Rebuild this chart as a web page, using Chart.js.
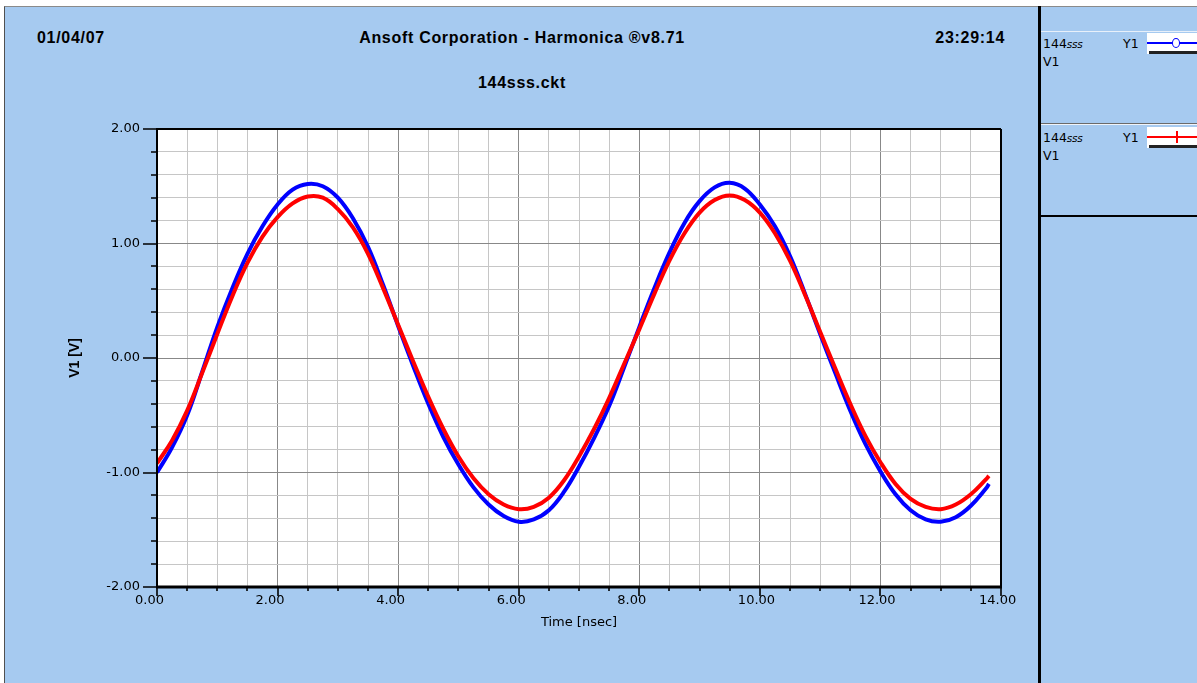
<!DOCTYPE html>
<html><head><meta charset="utf-8">
<script src="https://cdn.jsdelivr.net/npm/chart.js@4.4.0/dist/chart.umd.min.js"></script>
<style>
html,body{margin:0;padding:0;width:1197px;height:683px;overflow:hidden;background:#fff;}
#panel{position:absolute;left:4px;top:6px;width:1193px;height:677px;background:#A6CAF0;border-left:1px solid #505050;border-top:1px solid #8a8a8a;box-sizing:border-box;}
#sep{position:absolute;left:1038px;top:6px;width:3px;height:677px;background:#000;}
.hl{position:absolute;left:1041px;width:156px;}
canvas{position:absolute;left:0;top:0;}
.h{position:absolute;white-space:nowrap;font-family:'Liberation Sans',Arial,sans-serif;font-weight:bold;font-size:16px;line-height:16px;letter-spacing:0.7px;color:#000;}
.lg{position:absolute;white-space:nowrap;font-family:'DejaVu Sans',sans-serif;font-size:12.5px;line-height:13px;color:#000;}
.lg i{font-size:10.5px;letter-spacing:-0.3px;}
.box{position:absolute;left:1147px;width:50px;height:21px;background:#fff;}
</style></head>
<body>
<div id="panel"></div>
<div id="sep"></div>
<div class="hl" style="top:31px;height:1px;background:#e8f0fa;"></div>
<div class="hl" style="top:123px;height:1px;background:#6a6a6a;"></div>
<div class="hl" style="top:124px;height:1px;background:#f0f4fa;"></div>
<div class="hl" style="top:215px;height:2px;background:#000;"></div>

<div class="h" style="left:37px;top:30px;">01/04/07</div>
<div class="h" style="left:4px;width:1036px;text-align:center;top:30px;">Ansoft Corporation - Harmonica ®v8.71</div>
<div class="h" style="right:192px;top:30px;">23:29:14</div>
<div class="h" style="left:4px;width:1036px;text-align:center;top:75px;">144sss.ckt</div>

<div class="lg" style="left:1043px;top:37px;">144<i>sss</i></div>
<div class="lg" style="left:1123px;top:37px;">Y1</div>
<div class="lg" style="left:1043px;top:55px;">V1</div>
<div class="box" style="top:33px;"></div>
<div style="position:absolute;left:1147px;top:42px;width:50px;height:2px;background:#0000ff;"></div>
<div style="position:absolute;left:1172px;top:38px;width:6px;height:8px;border:1.5px solid #0000ff;border-radius:50%;background:#fff;"></div>
<div style="position:absolute;left:1149px;top:51px;width:48px;height:3px;background:#222;"></div>

<div class="lg" style="left:1043px;top:131px;">144<i>sss</i></div>
<div class="lg" style="left:1123px;top:131px;">Y1</div>
<div class="lg" style="left:1043px;top:149px;">V1</div>
<div class="box" style="top:127px;"></div>
<div style="position:absolute;left:1147px;top:136px;width:50px;height:2px;background:#ff0000;"></div>
<div style="position:absolute;left:1176px;top:131px;width:2px;height:12px;background:#ff0000;"></div>
<div style="position:absolute;left:1149px;top:145px;width:48px;height:3px;background:#222;"></div>

<canvas id="c" width="1197" height="683" style="width:1197px;height:683px;"></canvas>
<script>
// Time axis (ns)
const times = [0,0.25,0.5,0.75,1,1.25,1.5,1.75,2,2.25,2.5,2.75,3,3.25,3.5,3.75,4,4.25,4.5,4.75,5,5.25,5.5,5.75,6,6.25,6.5,6.75,7,7.25,7.5,7.75,8,8.25,8.5,8.75,9,9.25,9.5,9.75,10,10.25,10.5,10.75,11,11.25,11.5,11.75,12,12.25,12.5,12.75,13,13.25,13.5,13.75,13.8];
// Blue trace (V1, first entry)
const blueV = [-1.00,-0.78,-0.50,-0.12, 0.27,0.61,0.91,1.15, 1.34,1.47,1.52,1.50, 1.40,1.22,0.97,0.64, 0.28,-0.07,-0.40,-0.69, -0.93,-1.13,-1.28,-1.38, -1.43,-1.41,-1.33,-1.17, -0.95,-0.70,-0.42,-0.08, 0.27,0.61,0.92,1.18, 1.37,1.49,1.53,1.48, 1.34,1.15,0.89,0.56, 0.21,-0.13,-0.46,-0.75, -0.99,-1.19,-1.33,-1.41, -1.43,-1.39,-1.29,-1.14, -1.10];
// Red trace (V1, second entry)
const redV = [-0.92,-0.72,-0.46,-0.13, 0.21,0.54,0.83,1.06, 1.23,1.35,1.41,1.40, 1.30,1.14,0.91,0.61, 0.29,-0.03,-0.34,-0.62, -0.86,-1.05,-1.19,-1.28, -1.32,-1.30,-1.22,-1.07, -0.86,-0.62,-0.35,-0.05, 0.25,0.56,0.85,1.09, 1.27,1.38,1.42,1.38, 1.27,1.09,0.85,0.55, 0.23,-0.09,-0.40,-0.68, -0.91,-1.10,-1.23,-1.30, -1.32,-1.28,-1.19,-1.06, -1.03];
// Axis ranges and steps
const xRange = [0, 14], xStep = 0.5, xLabelStep = 2;
const yRange = [-2, 2], yStep = 0.2, yLabelStep = 1;
const xTitle = 'Time [nsec]';
const yTitle = 'V1 [V]';

function isMult(v, m){ const r = v / m; return Math.abs(r - Math.round(r)) < 1e-6; }

const plotDecor = {
  id: 'plotDecor',
  beforeDraw(chart){
    const a = chart.chartArea, c = chart.ctx;
    c.save(); c.fillStyle = '#ffffff';
    c.fillRect(a.left, a.top, a.right - a.left, a.bottom - a.top);
    c.restore();
  },
  afterDraw(chart){
    const a = chart.chartArea, c = chart.ctx, xs = chart.scales.x, ys = chart.scales.y;
    c.save();
    c.strokeStyle = '#000';
    c.lineWidth = 2;
    c.beginPath();
    c.moveTo(a.left, a.top); c.lineTo(a.right, a.top);
    c.moveTo(a.right, a.top); c.lineTo(a.right, a.bottom);
    c.moveTo(a.left, a.top - 1); c.lineTo(a.left, a.bottom);
    c.stroke();
    c.lineWidth = 3;
    c.beginPath(); c.moveTo(a.left - 1, a.bottom); c.lineTo(a.right + 1, a.bottom); c.stroke();
    c.lineWidth = 1.6;
    c.beginPath();
    xs.ticks.forEach(t => {
      const p = Math.round(xs.getPixelForValue(t.value)) ;
      const len = isMult(t.value, xLabelStep) ? 9 : 4;
      c.moveTo(p, a.bottom); c.lineTo(p, a.bottom + len);
    });
    ys.ticks.forEach(t => {
      const p = Math.round(ys.getPixelForValue(t.value));
      const len = isMult(t.value, yLabelStep) ? 14 : 6;
      c.moveTo(a.left, p); c.lineTo(a.left - len, p);
    });
    c.stroke();
    c.restore();
  }
};

new Chart(document.getElementById('c'), {
  type: 'line',
  data: {
    datasets: [
      { label: '144sss Y1 V1', data: times.map((t, i) => ({x: t, y: blueV[i]})), borderColor: '#0000ff', borderWidth: 4, pointRadius: 0, tension: 0.4, fill: false, order: 1 },
      { label: '144sss Y1 V1 ', data: times.map((t, i) => ({x: t, y: redV[i]})), borderColor: '#ff0000', borderWidth: 4, pointRadius: 0, tension: 0.4, fill: false, order: 0 }
    ]
  },
  options: {
    responsive: false,
    animation: false,
    layout: { padding: { left: 0, top: 129, right: 196, bottom: 0 } },
    plugins: { legend: { display: false }, tooltip: { enabled: false } },
    scales: {
      x: {
        type: 'linear', min: xRange[0], max: xRange[1],
        afterFit(s){ s.height = 96; },
        ticks: {
          stepSize: xStep, autoSkip: false, maxRotation: 0, minRotation: 0,
          align: 'start', labelOffset: -22, padding: 6,
          color: '#000', font: { family: 'DejaVu Sans', size: 13 },
          callback: v => isMult(v, xLabelStep) ? v.toFixed(2) : ''
        },
        grid: { drawTicks: false, lineWidth: 1, color: c => (c.tick && isMult(c.tick.value, xLabelStep)) ? '#888888' : '#c6c6c6' },
        border: { display: false },
        title: { display: true, text: xTitle, color: '#000', font: { family: 'DejaVu Sans', size: 13 }, padding: { top: 0, bottom: 53 } }
      },
      y: {
        type: 'linear', min: yRange[0], max: yRange[1],
        afterFit(s){ s.width = 157; },
        ticks: {
          stepSize: yStep, autoSkip: false, padding: 17,
          color: '#000', font: { family: 'DejaVu Sans', size: 13 },
          callback: v => isMult(v, yLabelStep) ? v.toFixed(2) : ''
        },
        grid: { drawTicks: false, lineWidth: 1, color: c => (c.tick && isMult(c.tick.value, yLabelStep)) ? '#888888' : '#c6c6c6' },
        border: { display: false },
        title: { display: true, text: yTitle, color: '#000', font: { family: 'Liberation Sans', size: 14, weight: 'bold' }, padding: { top: 67, bottom: 0 } }
      }
    }
  },
  plugins: [plotDecor]
});
</script>
</body></html>
